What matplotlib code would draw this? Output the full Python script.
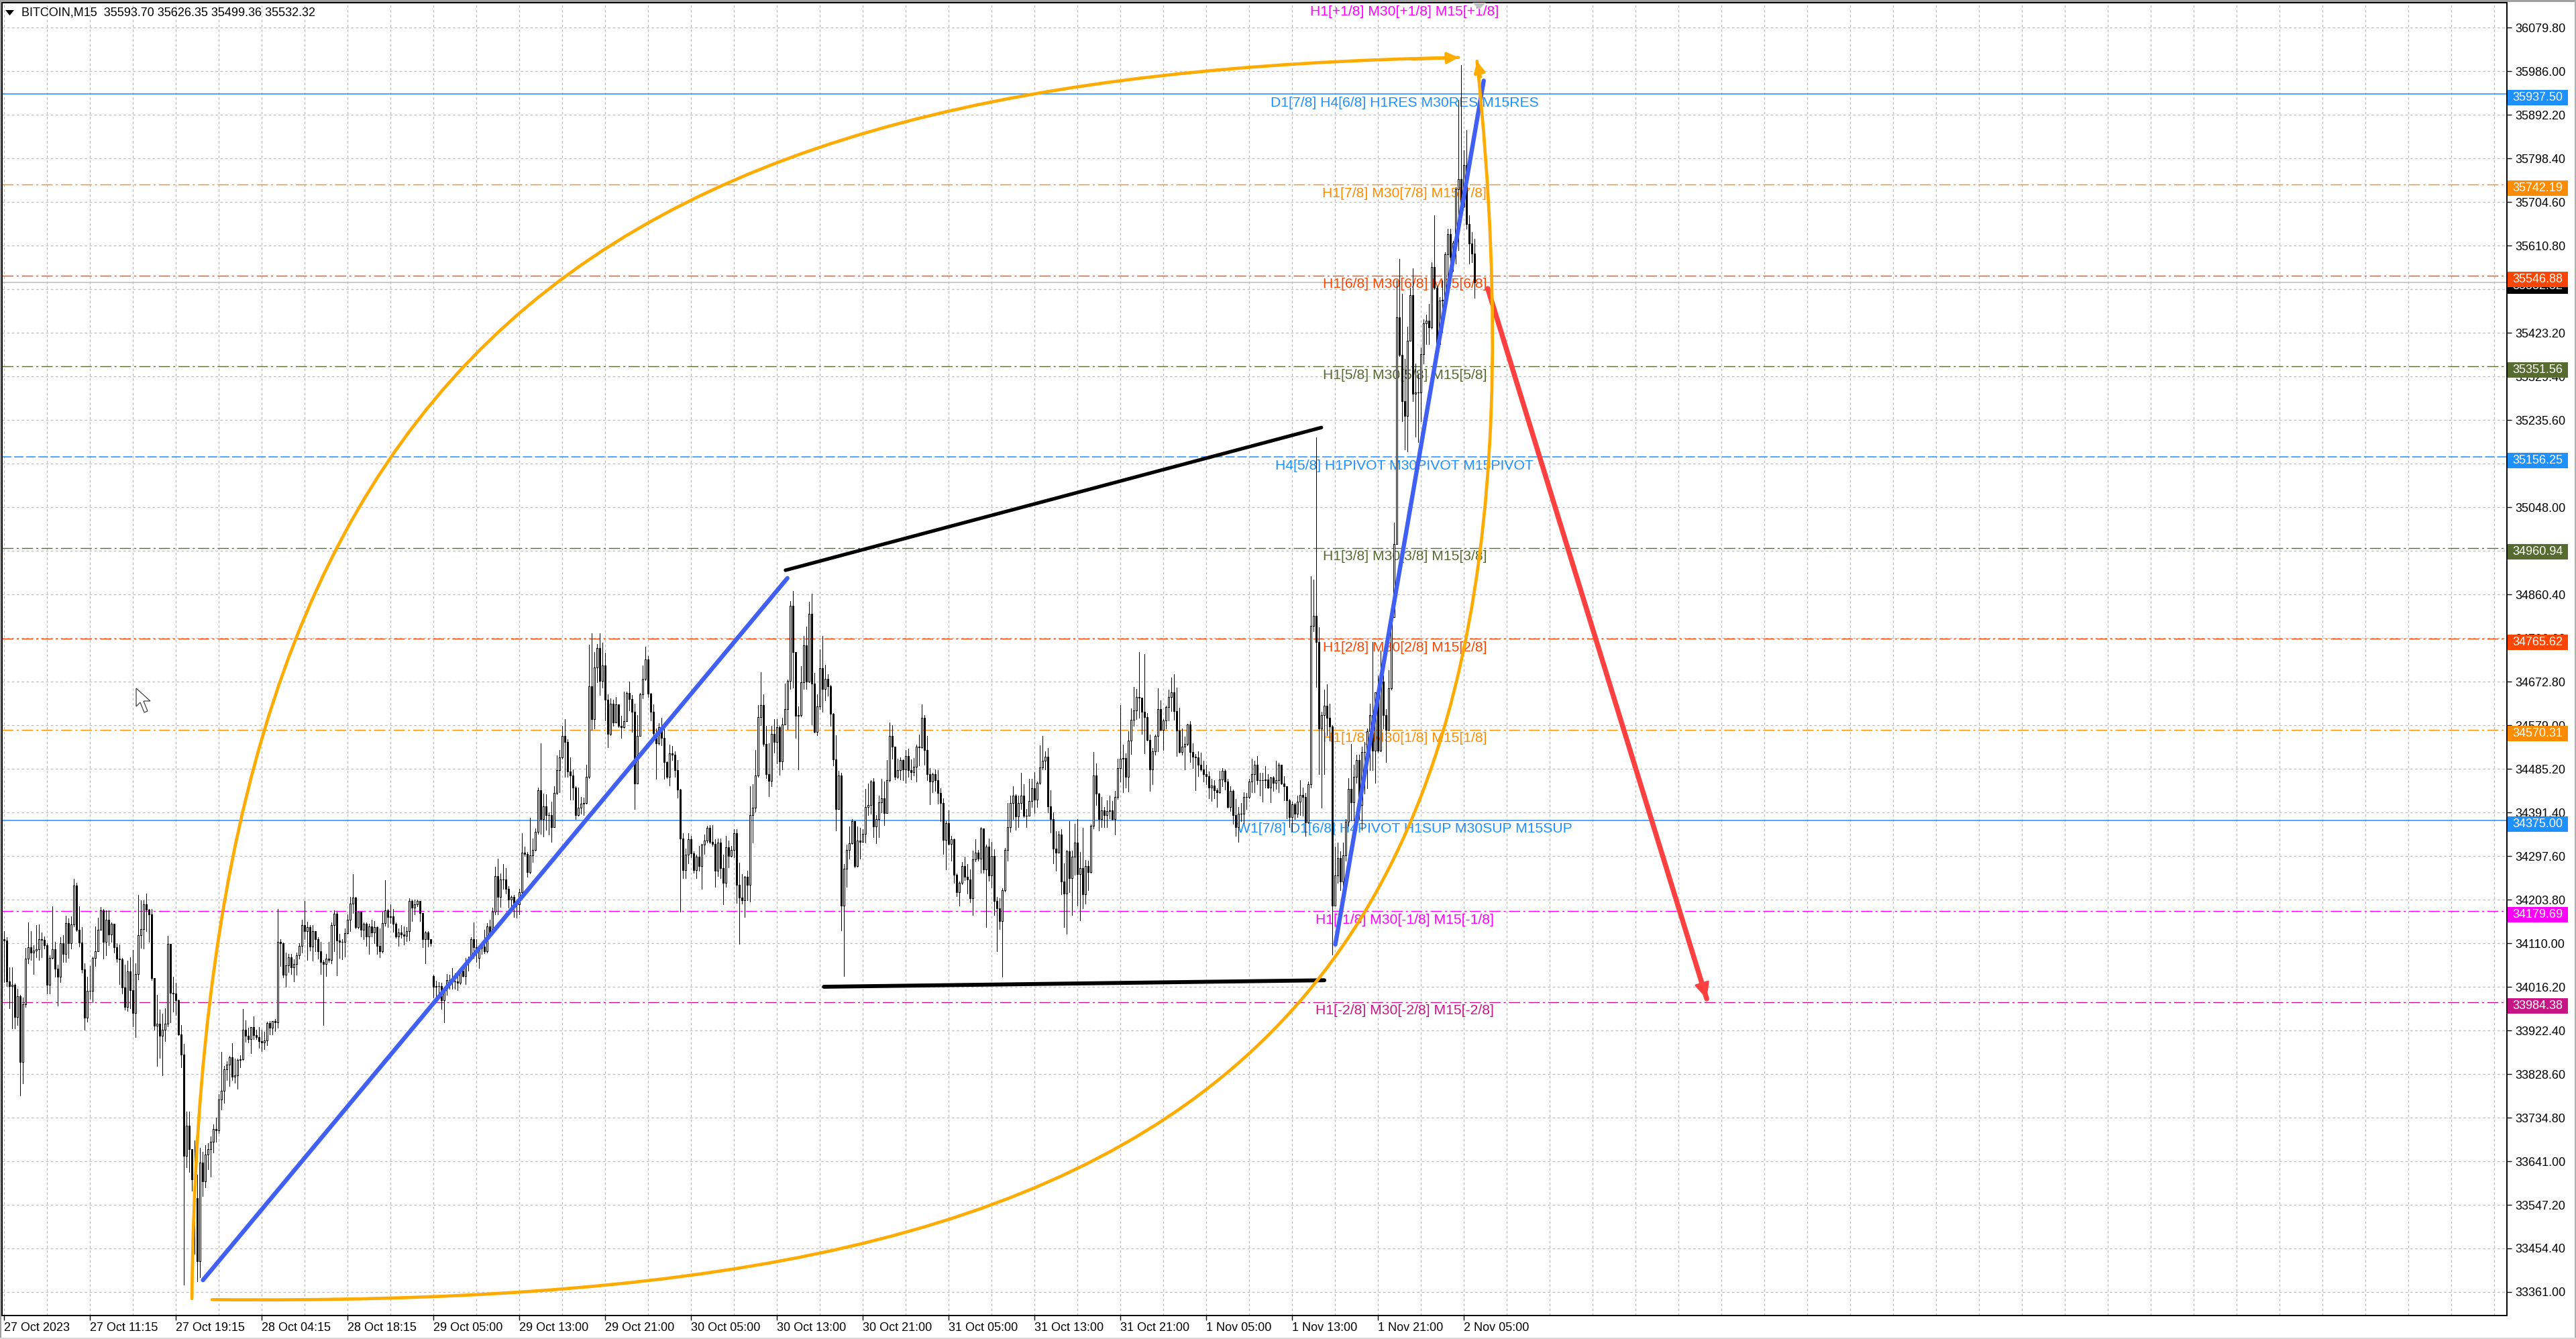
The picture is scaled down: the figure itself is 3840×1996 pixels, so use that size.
# BITCOIN M15 candles with murrey levels and hand drawn lines
import matplotlib
matplotlib.use("Agg")
import matplotlib.pyplot as plt
from matplotlib.patches import Rectangle, Polygon, PathPatch
from matplotlib.path import Path
from matplotlib.transforms import IdentityTransform

plt.rcParams['font.family'] = ['Liberation Sans', 'DejaVu Sans']
plt.rcParams['lines.scale_dashes'] = False

closes = [
    34117,34029,34019,34021,33952,33997,33856,33980,34077,34102,
    34091,34095,34097,34120,34118,34106,34021,34079,34097,34056,
    34038,34111,34087,34154,34111,34151,34235,34139,34112,34055,
    33951,34008,34008,34079,34094,34139,34181,34113,34161,34129,
    34152,34102,34078,34076,34015,33974,34050,34010,33960,34044,
    34128,34141,34194,34183,34173,34036,33933,33937,33911,33925,
    33938,34109,34004,34003,33988,33914,33871,33653,33718,33667,
    33603,33562,33427,33639,33598,33656,33667,33683,33711,33708,
    33775,33793,33840,33850,33865,33824,33827,33860,33861,33925,
    33912,33905,33931,33913,33909,33900,33897,33901,33939,33929,
    33943,33941,34113,34111,34043,34063,34080,34059,34066,
    34085,34105,34150,34136,34146,34103,34136,34120,34093,34071,
    34066,34077,34075,34150,34174,34116,34114,34113,34133,34161,
    34196,34209,34146,34178,34139,34153,34125,34147,34134,34146,
    34105,34094,34154,34182,34167,34168,34152,34125,34134,34130,
    34127,34137,34201,34187,34194,34201,34176,34120,34134,34120,
    34110,34017,34018,34019,33988,34012,34032,34031,34028,34028,
    34026,34052,34040,34070,34077,34120,34102,34093,34100,34103,
    34094,34147,34131,34178,34255,34210,34248,34248,34227,34205,
    34211,34197,34194,34220,34306,34303,34264,34300,34311,34350,
    34440,34377,34405,34386,34386,34361,34434,34483,34510,34557,
    34544,34480,34471,34446,34386,34402,34411,34413,34469,34663,
    34593,34704,34746,34675,34708,34635,34561,34626,34586,34625,
    34578,34575,34588,34649,34636,34609,34454,34556,34646,34680,
    34721,34647,34608,34562,34541,34575,34553,34501,34468,34519,
    34516,34483,34441,34336,34268,34301,34335,34304,34268,34297,
    34277,34323,34331,34359,34329,34324,34266,34327,34272,34241,
    34317,34298,34311,34347,34236,34209,34203,34253,34236,34386,
    34402,34471,34597,34623,34539,34474,34460,34561,34543,34575,
    34502,34581,34614,34675,34836,34737,34600,34602,34672,34752,
    34674,34819,34669,34565,34620,34703,34658,34680,34663,34604,
    34506,34400,34472,34191,34271,34311,34326,34374,34276,34331,
    34329,34346,34403,34408,34459,34362,34378,34414,34423,34391,
    34461,34556,34534,34468,34483,34504,34484,34513,34483,34479,
    34490,34534,34532,34596,34526,34475,34459,34475,34461,34434,
    34412,34333,34369,34325,34334,34258,34221,34241,34276,34253,
    34248,34208,34291,34305,34292,34358,34270,34319,34257,34298,
    34201,34186,34158,34225,34312,34360,34413,34428,34383,34413,
    34428,34385,34385,34417,34444,34419,34456,34489,34503,34512,
    34405,34377,34314,34306,34344,34243,34217,34308,34251,34297,
    34327,34259,34272,34216,34277,34263,34363,34471,34432,34377,
    34396,34387,34395,34397,34378,34425,34487,34507,34509,34468,
    34546,34591,34611,34640,34639,34608,34597,34548,34485,34524,
    34557,34615,34570,34590,34619,34641,34650,34610,34568,34522,
    34534,34539,34581,34522,34512,34510,34495,34485,34475,34470,
    34445,34450,34440,34435,34463,34482,34458,34403,34439,34386,
    34361,34389,34389,34426,34425,34459,34475,34494,34462,34461,
    34461,34463,34445,34467,34456,34462,34494,34454,34448,34418,
    34382,34410,34389,34415,34430,34425,34370,34453,
    34793,34815,34758,34572,34601,34622,34596,34577,34192,34257,
    34294,34243,34300,34372,34442,34414,34468,34505,34408,34522,
    34522,34566,34601,34525,34650,34525,34674,34602,34570,34659,
    34812,34970,35457,35376,35277,35245,35407,35504,35292,35295,
    35295,35378,35444,35450,35435,35565,35520,35399,35493,35494,
    35593,35636,35587,35618,35733,35755,35695,35784,35658,35616,
    35593.7,35532.32,
]
highs = [
    34136,34123,34059,34059,34024,34012,34000,33994,34100,34156,
    34136,34107,34150,34151,34134,34125,34111,34085,34190,34113,
    34065,34123,34128,34170,34164,34169,34249,34241,34190,34146,
    34067,34039,34061,34082,34147,34165,34189,34185,34182,34181,
    34156,34151,34110,34108,34079,34064,34073,34081,34096,34067,
    34214,34203,34203,34217,34185,34184,34032,34000,33968,33959,
    33971,34127,34109,34038,34026,33989,33934,33894,33748,33748,
    33668,33686,33613,33671,33662,33676,33680,33695,33721,33735,
    33786,33877,33847,33857,33868,33895,33863,33863,33870,33970,
    33945,33929,33931,33953,33924,33931,33924,33920,33942,33944,
    33944,33947,34185,34119,34112,34090,34088,34087,34076,
    34091,34110,34161,34202,34157,34150,34149,34136,34123,34113,
    34075,34088,34114,34156,34181,34179,34131,34120,34143,34173,
    34210,34260,34210,34179,34179,34155,34155,34152,34161,34158,
    34147,34143,34179,34246,34184,34195,34185,34155,34143,34150,
    34147,34146,34208,34205,34205,34205,34201,34176,34137,34137,
    34120,34043,34030,34027,34026,34015,34045,34043,34057,34046,
    34049,34057,34058,34079,34082,34123,34156,34119,34103,34103,
    34139,34154,34161,34187,34275,34292,34261,34281,34273,34234,
    34213,34214,34204,34227,34347,34319,34307,34380,34336,34357,
    34445,34541,34433,34431,34392,34415,34449,34515,34527,34578,
    34592,34550,34510,34485,34448,34445,34426,34424,34495,34753,
    34778,34737,34754,34777,34757,34735,34646,34638,34635,34640,
    34624,34600,34652,34652,34674,34644,34626,34601,34649,34708,
    34748,34729,34649,34624,34572,34584,34596,34572,34502,34538,
    34535,34523,34505,34442,34347,34314,34347,34341,34308,34301,
    34320,34325,34344,34363,34365,34365,34335,34336,34336,34301,
    34341,34332,34320,34356,34356,34284,34260,34255,34266,34448,
    34453,34527,34623,34694,34646,34578,34541,34578,34593,34593,
    34578,34596,34669,34678,34846,34869,34735,34620,34706,34771,
    34792,34845,34863,34692,34646,34743,34772,34710,34689,34666,
    34606,34558,34481,34477,34281,34323,34362,34377,34371,34362,
    34359,34356,34442,34454,34461,34465,34386,34428,34464,34458,
    34505,34586,34580,34526,34507,34511,34506,34526,34529,34506,
    34509,34538,34560,34624,34601,34556,34488,34477,34485,34483,
    34444,34423,34374,34397,34341,34336,34261,34243,34286,34297,
    34281,34269,34310,34335,34312,34360,34358,34323,34336,34328,
    34313,34210,34207,34229,34315,34413,34428,34448,34431,34428,
    34477,34453,34400,34464,34464,34479,34459,34537,34556,34524,
    34530,34440,34392,34352,34351,34356,34282,34312,34374,34310,
    34368,34378,34307,34359,34289,34288,34366,34522,34498,34434,
    34426,34403,34418,34428,34417,34439,34507,34623,34538,34519,
    34567,34616,34662,34658,34737,34632,34733,34606,34560,34531,
    34560,34659,34633,34593,34622,34656,34682,34689,34660,34617,
    34573,34555,34583,34588,34541,34517,34524,34520,34503,34494,
    34480,34464,34462,34444,34482,34488,34485,34464,34449,34441,
    34421,34403,34413,34436,34434,34464,34508,34503,34514,34477,
    34477,34492,34475,34468,34470,34503,34499,34495,34470,34449,
    34421,34415,34413,34428,34462,34445,34434,34459,
    34900,34893,35199,34790,34608,34656,34668,34626,34579,34318,
    34327,34309,34327,34378,34466,34540,34495,34516,34516,34534,
    34543,34573,34626,34758,34650,34686,34740,34686,34614,34698,
    34815,35015,35536,35583,35507,35367,35437,35521,35563,35358,
    35335,35392,35453,35463,35486,35575,35676,35525,35500,35536,
    35597,35647,35647,35622,35737,35924,36000,35816,35859,35676,
    35640,35626.35,
]
lows = [
    34027,34019,33971,33928,33928,33935,33783,33809,33974,34067,
    34074,34045,34080,34074,34080,34099,34003,34002,34077,34038,
    33976,34027,34070,34070,34079,34099,34147,34136,34104,34047,
    33925,33942,33991,33983,34062,34093,34139,34078,34085,34106,
    34113,34091,34071,34022,34002,33968,33965,33971,33932,33909,
    34033,34100,34099,34136,34113,34032,33925,33847,33864,33827,
    33900,33932,33941,33964,33956,33913,33844,33376,33628,33618,
    33578,33443,33384,33392,33566,33586,33624,33608,33660,33683,
    33703,33753,33767,33816,33804,33816,33810,33798,33844,33859,
    33898,33897,33874,33905,33905,33885,33879,33883,33892,33914,
    33915,33921,33929,34062,34037,34017,34049,34045,34028,
    34043,34078,34091,34119,34075,34095,34073,34093,34077,34045,
    33935,34040,34070,34067,34094,34042,34079,34076,34082,34131,
    34136,34175,34142,34143,34125,34119,34105,34087,34125,34111,
    34088,34081,34090,34148,34146,34154,34135,34122,34105,34122,
    34108,34115,34116,34158,34173,34190,34158,34102,34067,34103,
    34105,33994,33997,33997,33969,33940,34000,34012,34012,34012,
    34009,34023,34039,34023,34052,34076,34079,34070,34058,34088,
    34089,34091,34125,34130,34173,34173,34188,34228,34217,34187,
    34185,34167,34165,34173,34216,34298,34253,34261,34285,34310,
    34346,34346,34340,34355,34344,34328,34360,34431,34436,34507,
    34468,34468,34419,34419,34378,34385,34389,34386,34411,34466,
    34569,34573,34672,34644,34660,34590,34532,34558,34578,34604,
    34576,34552,34574,34596,34611,34565,34400,34516,34557,34638,
    34676,34640,34590,34547,34464,34538,34537,34464,34465,34450,
    34505,34468,34424,34179,34250,34250,34283,34295,34262,34251,
    34267,34228,34303,34327,34326,34320,34232,34255,34251,34195,
    34232,34274,34297,34295,34198,34109,34196,34167,34203,34200,
    34327,34394,34468,34579,34535,34465,34427,34448,34521,34498,
    34473,34485,34581,34571,34658,34660,34553,34485,34599,34658,
    34658,34672,34581,34564,34558,34614,34608,34633,34643,34578,
    34493,34353,34399,34138,34040,34232,34292,34325,34274,34275,
    34292,34332,34327,34386,34389,34339,34326,34338,34392,34365,
    34390,34458,34508,34463,34465,34463,34461,34456,34468,34463,
    34471,34459,34493,34531,34495,34462,34409,34435,34439,34411,
    34374,34303,34270,34323,34288,34240,34212,34192,34238,34247,
    34217,34199,34171,34287,34288,34262,34262,34146,34245,34230,
    34172,34094,34141,34038,34222,34288,34350,34377,34355,34361,
    34400,34382,34360,34389,34403,34390,34404,34453,34485,34484,
    34392,34349,34282,34266,34305,34216,34146,34131,34220,34172,
    34258,34192,34160,34186,34196,34225,34262,34358,34408,34353,
    34360,34361,34360,34379,34376,34345,34421,34459,34436,34445,
    34437,34517,34578,34593,34596,34561,34519,34547,34438,34453,
    34516,34524,34568,34527,34573,34590,34610,34591,34513,34520,
    34516,34484,34537,34501,34487,34440,34470,34482,34458,34452,
    34423,34416,34423,34404,34434,34449,34441,34402,34395,34367,
    34342,34328,34374,34369,34399,34423,34435,34436,34453,34428,
    34415,34445,34444,34414,34439,34442,34435,34452,34418,34379,
    34361,34351,34377,34382,34386,34385,34342,34369,
    34446,34782,34662,34474,34402,34474,34558,34546,34086,34192,
    34240,34225,34213,34288,34363,34375,34375,34456,34378,34354,
    34432,34444,34483,34483,34456,34522,34523,34573,34501,34568,
    34656,34812,34969,35374,35233,35173,35168,35428,35277,35200,
    35188,35234,35358,35399,35399,35432,35518,35396,35396,35425,
    35489,35521,35557,35557,35572,35602,35694,35694,35647,35572,
    35575,35499.36,
]
# opens follow the last close, these bars gap
first_open = 34120
gap_opens = {160: 34040, 177: 34079}

price_ticks = [36079.8,35986.0,35892.2,35798.4,35704.6,35610.8,35517.0,35423.2,35329.4,35235.6,
               35141.8,35048.0,34954.2,34860.4,34766.6,34672.8,34579.0,34485.2,34391.4,34297.6,
               34203.8,34110.0,34016.2,33922.4,33828.6,33734.8,33641.0,33547.2,33454.4,33361.0]
time_labels = ["27 Oct 2023","27 Oct 11:15","27 Oct 19:15","28 Oct 04:15","28 Oct 18:15","29 Oct 05:00",
               "29 Oct 13:00","29 Oct 21:00","30 Oct 05:00","30 Oct 13:00","30 Oct 21:00","31 Oct 05:00",
               "31 Oct 13:00","31 Oct 21:00","1 Nov 05:00","1 Nov 13:00","1 Nov 21:00","2 Nov 05:00"]

level_prices = [36132.81,35937.50,35742.19,35546.88,35351.56,35156.25,34960.94,34765.62,34570.31,34375.00,34179.69,33984.38]
level_colors = ['#FF00FF','#1E90FF','#FF8C00','#FF4500','#556B2F','#1E90FF','#556B2F','#FF4500','#FF8C00','#1E90FF','#FF00FF','#C71585']
level_texts = ["H1[+1/8] M30[+1/8] M15[+1/8]",
               "D1[7/8] H4[6/8] H1RES M30RES M15RES",
               "H1[7/8] M30[7/8] M15[7/8]",
               "H1[6/8] M30[6/8] M15[6/8]",
               "H1[5/8] M30[5/8] M15[5/8]",
               "H4[5/8] H1PIVOT M30PIVOT M15PIVOT",
               "H1[3/8] M30[3/8] M15[3/8]",
               "H1[2/8] M30[2/8] M15[2/8]",
               "H1[1/8] M30[1/8] M15[1/8]",
               "W1[7/8] D1[6/8] H4PIVOT H1SUP M30SUP M15SUP",
               "H1[-1/8] M30[-1/8] M15[-1/8]",
               "H1[-2/8] M30[-2/8] M15[-2/8]"]
level_kinds = ['none','solid','dd','dd','dd','dash','dd','dd','dd','solid','dd','dd']

# hand drawn objects, bar number and price
blue1_x, blue1_y = [74.2, 292], [33386, 34896]
blue2_x, blue2_y = [496.2, 551.5], [34108, 35966]
black1_x, black1_y = [291.3, 491], [34913, 35220]
black2_x, black2_y = [305.6, 492.1], [34017, 34031]
red_x, red_y = [553, 634.6], [35519, 33991]
# the two curves are cubic beziers, start, two controls, end
curve1_x = [70.1, 73.6, 223.6, 542.1]
curve1_y = [33346, 35418, 35981, 36016]
curve2_x = [77.6, 423.6, 588.6, 549.0]
curve2_y = [33344, 33326, 33802, 36008]
# a point just before each tip, for the arrow heads
curve1_neck = (525.0, 36012)
curve2_neck = (550.3, 35974)

assert len(closes) == len(highs) == len(lows) == 549, (len(closes), len(highs), len(lows))

W, H = 3840, 1996
fig = plt.figure(figsize=(W/100, H/100), dpi=100, facecolor='white')
ax = fig.add_axes([3/W, (H-1961)/H, (3737-3)/W, (1961-4)/H])
ax.set_xlim(-0.675, 932.8)
ax.set_ylim(33309.8, 36133.9)
ax.set_facecolor('white')

bars = list(range(len(closes)))
opens = [first_open] + closes[:-1]
for k in gap_opens:
    opens[k] = gap_opens[k]

# grid
major_bars = [32 * k for k in range(len(time_labels))]
ax.set_xticks(major_bars)
ax.set_xticks([b for b in range(0, 933, 16) if b not in major_bars], minor=True)
ax.set_xticklabels(time_labels, ha='left', fontsize=13)
ax.set_yticks(price_ticks)
ax.set_yticklabels(['%.2f' % p for p in price_ticks], fontsize=13)
ax.yaxis.tick_right()
ax.tick_params(axis='x', which='major', length=5, width=1, pad=2, color='black')
ax.tick_params(axis='x', which='minor', length=0)
ax.tick_params(axis='y', length=5, width=1, pad=4, color='black')
ax.grid(True, which='both', color='#C0C0C0', lw=1.0, linestyle=(0, (2.6, 2.6)))
ax.set_axisbelow(True)
for s in ax.spines.values():
    s.set_linewidth(1.4)
    s.set_color('black')

# levels
for p, c, t, k in zip(level_prices, level_colors, level_texts, level_kinds):
    if k == 'solid':
        ax.axhline(p, color=c, lw=1.1, zorder=1.5)
    elif k == 'dash':
        ax.axhline(p, color=c, lw=1.1, linestyle=(0, (10, 3)), zorder=1.5)
    elif k == 'dd':
        ax.axhline(p, color=c, lw=1.0, linestyle=(0, (12, 3.4, 2.2, 3.4)), zorder=1.5)
    ax.annotate(t, xy=(522, p), xytext=(0, -13), textcoords='offset pixels', color=c,
                fontsize=15.2, ha='center', va='center', zorder=1.6, annotation_clip=False)

ax.axhline(closes[-1], color='#C0C0C0', lw=1.2, zorder=1.4)

# candles
ax.vlines(bars, lows, highs, color='black', lw=0.72, zorder=2, antialiased=False)
colors = ['white' if c >= o else 'black' for o, c in zip(opens, closes)]
ax.bar(bars, [c - o for o, c in zip(opens, closes)], bottom=opens, width=0.5, color=colors,
       edgecolor='black', lw=0.72, zorder=2.1, antialiased=False)

# drawn objects
BLUE, ORANGE, RED = '#4060F5', '#FFAB00', '#FF4040'
ax.plot(black1_x, black1_y, color='black', lw=3.8, zorder=2.6, solid_capstyle='round')
ax.plot(black2_x, black2_y, color='black', lw=4.2, zorder=2.6, solid_capstyle='round')
ax.plot(blue1_x, blue1_y, color=BLUE, lw=4.6, zorder=2.7, solid_capstyle='round')
ax.plot(blue2_x, blue2_y, color=BLUE, lw=4.6, zorder=2.7, solid_capstyle='round')
ax.plot(red_x, red_y, color=RED, lw=5.4, zorder=2.8, solid_capstyle='round')
ax.annotate('', xy=(red_x[1], red_y[1]), xytext=(red_x[0] + 0.9*(red_x[1]-red_x[0]), red_y[0] + 0.9*(red_y[1]-red_y[0])),
            zorder=2.8, arrowprops=dict(arrowstyle='-|>,head_length=1.5,head_width=0.7', color=RED, lw=2,
                                        shrinkA=0, shrinkB=0, mutation_scale=10))
codes = [Path.MOVETO, Path.CURVE4, Path.CURVE4, Path.CURVE4]
for cx, cy, neck in ((curve1_x, curve1_y, curve1_neck), (curve2_x, curve2_y, curve2_neck)):
    ax.add_patch(PathPatch(Path(list(zip(cx, cy)), codes), fill=False, ec=ORANGE, lw=3.4, zorder=3,
                           capstyle='round', clip_on=True))
    ax.annotate('', xy=(cx[-1], cy[-1]), xytext=neck, zorder=3,
                arrowprops=dict(arrowstyle='-|>,head_length=1.0,head_width=0.5', color=ORANGE, lw=3.0,
                                shrinkA=0, shrinkB=0, mutation_scale=10))

# window chrome and price tags are placed in image pixels
px = IdentityTransform()
def px_rect(x, y, w, h, color, z=1):
    fig.add_artist(Rectangle((x, H - y - h), w, h, transform=px, fc=color, ec='none', zorder=z))

px_rect(0, 0, W, 3, '#A0A0A0')
px_rect(0, 0, 2, H, '#A0A0A0')
px_rect(W - 2, 0, 2, H, '#B0B0B0')
px_rect(0, H - 2, W, 2, '#D8D8D8')

def price_tag(p, color, txt, z=3):
    yp = ax.transData.transform((0, p))[1]
    px_rect(3738, H - yp - 6, 90, 23, color, z)
    fig.text(3745.5, yp - 5.5, txt, transform=px, color='white', fontsize=13, va='center', ha='left', zorder=z + 0.1)

price_tag(closes[-1], 'black', '%.2f' % closes[-1], 2)
for p, c in zip(level_prices[1:], level_colors[1:]):
    price_tag(p, c, '%.2f' % p)

fig.text(32, H - 19, "BITCOIN,M15  35593.70 35626.35 35499.36 35532.32", transform=px,
         fontsize=13, color='black', va='center', ha='left', zorder=4)
fig.add_artist(Polygon([(8, H - 15), (21, H - 15), (14.5, H - 23)], closed=True, transform=px, fc='black', ec='none', zorder=4))
fig.add_artist(Polygon([(2195, H - 4), (2215, H - 4), (2205, H - 14)], closed=True, transform=px, fc='#C0C0C0', ec='none', zorder=4))
# mouse cursor left in the screenshot
cursor = [(203, 1026), (203, 1053), (209, 1047), (215, 1062), (220, 1060), (214, 1045), (224, 1045)]
fig.add_artist(Polygon([(a, H - b) for a, b in cursor], closed=True, transform=px, fc='white', ec='#404040', lw=0.9, zorder=4))

fig.savefig('out.png', dpi=100, facecolor='white')
